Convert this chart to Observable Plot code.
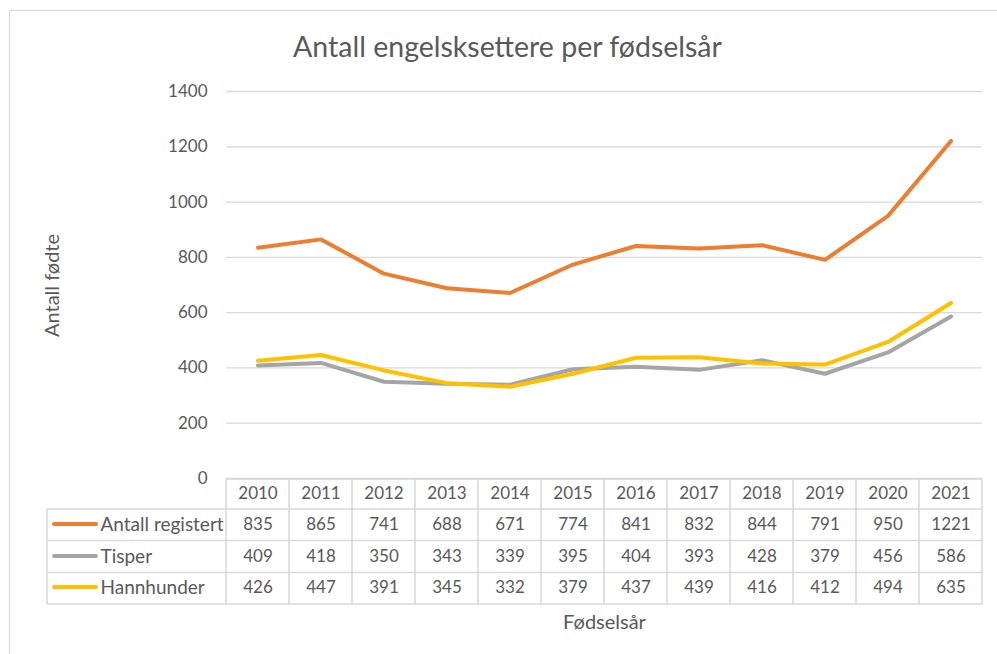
<!DOCTYPE html>
<html>
<head>
<meta charset="utf-8">
<script src="https://cdn.jsdelivr.net/npm/d3@7"></script>
<script src="https://cdn.jsdelivr.net/npm/@observablehq/plot@0.6"></script>
<style>
  html, body { margin: 0; padding: 0; background: #fff; }
  #chart { position: relative; width: 997px; height: 654px; overflow: hidden; }
</style>
</head>
<body>
<div id="chart"></div>
<script>
// ---- data ----
const years = ["2010","2011","2012","2013","2014","2015","2016","2017","2018","2019","2020","2021"];
const seriesNames = ["Antall registert", "Tisper", "Hannhunder"];
const antallRegistert = [835, 865, 741, 688, 671, 774, 841, 832, 844, 791, 950, 1221];
const tisper = [409, 418, 350, 343, 339, 395, 404, 393, 428, 379, 456, 586];
const hannhunder = [426, 447, 391, 345, 332, 379, 437, 439, 416, 412, 494, 635];
const seriesColors = ["#ED7D31", "#A5A5A5", "#FFC000"];
const yTicks = [0, 200, 400, 600, 800, 1000, 1200, 1400];
const titleText = "Antall engelsksettere per fødselsår";
const yLabel = "Antall fødte";
const xLabel = "Fødselsår";

// ---- build long table ----
const seriesValues = [antallRegistert, tisper, hannhunder];
const rows = [];
seriesNames.forEach((name, si) => {
  years.forEach((yr, i) => rows.push({series: name, si, year: yr, value: seriesValues[si][i]}));
});

const textColor = "#595959";
const borderColor = "#D9D9D9";

// table layout (pixel offsets below the frame bottom)
const headerTop = 1, rowTops = [31, 62.5, 94.5], tableBottom = 126;
const rowCenters = [46, 78, 109];
const headerCenter = 15.5;

function tableDecor(index, scales, values, dimensions) {
  const x = scales.x;
  const bw = x.bandwidth ? x.bandwidth() : (x(years[1]) - x(years[0]));
  const x0 = x(years[0]);
  const x1 = x(years[years.length - 1]) + bw;
  const yb = dimensions.height - dimensions.marginBottom;
  const legendLeft = 47;
  const g = d3.create("svg:g");
  // outer chart border
  g.append("rect").attr("x", 9.5).attr("y", 10.5).attr("width", 1100).attr("height", 1000)
    .attr("fill", "none").attr("stroke", borderColor).attr("stroke-width", 1.2);
  const lines = g.append("g").attr("stroke", borderColor).attr("stroke-width", 1.6).attr("fill", "none");
  // horizontal lines
  lines.append("line").attr("x1", x0).attr("x2", x1).attr("y1", yb + headerTop).attr("y2", yb + headerTop);
  [...rowTops, tableBottom].forEach(t => {
    lines.append("line").attr("x1", legendLeft).attr("x2", x1).attr("y1", yb + t).attr("y2", yb + t);
  });
  // vertical lines
  years.forEach(yr => {
    lines.append("line").attr("x1", x(yr) + bw).attr("x2", x(yr) + bw).attr("y1", yb + headerTop).attr("y2", yb + tableBottom);
  });
  lines.append("line").attr("x1", x0).attr("x2", x0).attr("y1", yb + headerTop).attr("y2", yb + tableBottom);
  lines.append("line").attr("x1", legendLeft).attr("x2", legendLeft).attr("y1", yb + rowTops[0]).attr("y2", yb + tableBottom);
  // legend swatches
  seriesNames.forEach((name, si) => {
    g.append("line").attr("x1", 54).attr("x2", 96)
      .attr("y1", yb + rowCenters[si]).attr("y2", yb + rowCenters[si])
      .attr("stroke", seriesColors[si]).attr("stroke-width", 4).attr("stroke-linecap", "round");
  });
  return g.node();
}

const valueMarks = seriesNames.map((name, si) =>
  Plot.text(rows.filter(d => d.si === si), {
    x: "year", text: d => String(d.value), frameAnchor: "bottom", lineAnchor: "middle",
    dy: rowCenters[si], fill: textColor, fontSize: 17
  })
);
const labelMarks = seriesNames.map((name, si) =>
  Plot.text([name], {
    frameAnchor: "bottom-left", lineAnchor: "middle", textAnchor: "start",
    dx: 100 - 226, dy: rowCenters[si], fill: textColor, fontSize: 19
  })
);

const chart = Plot.plot({
  width: 997,
  height: 654,
  marginLeft: 226,
  marginRight: 15,
  marginTop: 91,
  marginBottom: 176,
  style: {fontFamily: "Lato, 'Open Sans', sans-serif", fontSize: "17px", color: textColor, background: "#fff"},
  x: {type: "band", domain: years, padding: 0, axis: null},
  y: {domain: [0, 1400]},
  color: {domain: seriesNames, range: seriesColors},
  marks: [
    tableDecor,
    Plot.gridY(yTicks, {stroke: borderColor, strokeOpacity: 1, strokeWidth: 1.3}),
    Plot.axisY(yTicks, {
      tickSize: 0, tickPadding: 19, fontSize: 17, tickFormat: d => String(d),
      label: null
    }),
    Plot.text([yLabel], {
      frameAnchor: "left", lineAnchor: "middle", textAnchor: "middle", rotate: -90,
      dx: 52 - 226, dy: 285 - (91 + 478) / 2, fill: textColor, fontSize: 20
    }),
    Plot.line(rows, {
      x: "year", y: "value", z: "series", stroke: "series",
      strokeWidth: 4, strokeLinejoin: "round", strokeLinecap: "round"
    }),
    // title
    Plot.text([titleText], {frameAnchor: "top", lineAnchor: "middle", dx: -97, dy: -44, fontSize: 28.5, fill: textColor}),
    // header years
    Plot.text(years, {x: d => d, frameAnchor: "bottom", lineAnchor: "middle", dy: headerCenter, fill: textColor, fontSize: 17}),
    ...valueMarks,
    ...labelMarks,
    // x label
    Plot.text([xLabel], {frameAnchor: "bottom", lineAnchor: "middle", dy: 144, fill: textColor, fontSize: 20})
  ]
});
document.getElementById("chart").appendChild(chart);
</script>
</body>
</html>
